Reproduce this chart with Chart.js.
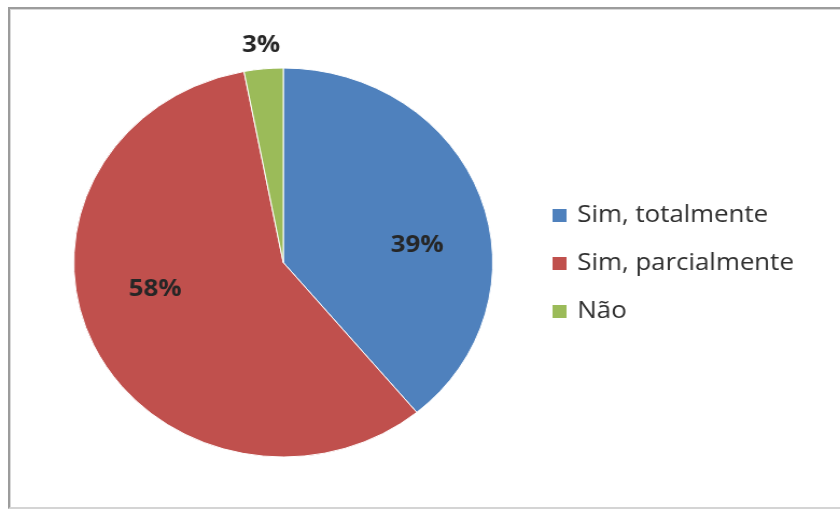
<!DOCTYPE html>
<html>
<head>
<meta charset="utf-8">
<script src="https://cdn.jsdelivr.net/npm/chart.js@4.4.1/dist/chart.umd.min.js"></script>
<style>
  html, body { margin: 0; padding: 0; background: #fff; overflow: hidden; }
  #frame {
    position: absolute; left: 8px; top: 7px; width: 860px; height: 498px;
    border: 2px solid #9c9c9c; border-bottom-color: #d4d4d4;
    box-shadow: inset 1px 1px 0 #d8d8d8;
  }
  #wrap {
    position: absolute; left: 0; top: 0; width: 780px; height: 510px;
    transform: scaleX(1.077); transform-origin: 0 0;
  }
</style>
</head>
<body>
<div id="frame"></div>
<div id="wrap"><canvas id="pie" width="780" height="510"></canvas></div>
<script>
const categories = ["Sim, totalmente", "Sim, parcialmente", "Não"];
const shares = [39, 58, 3];
const sliceColors = ["#4f81bd", "#c0504d", "#9bbb59"];

// label placement per slice: angle shift (deg) from the slice middle, radius factor
const labelPlace = [[12, 0.645], [12.6, 0.627], [0, 1.12]];

const sliceLabels = {
  id: "sliceLabels",
  afterDatasetsDraw(chart) {
    const ctx = chart.ctx;
    const arcs = chart.getDatasetMeta(0).data;
    ctx.save();
    ctx.font = "bold 24px 'Open Sans'";
    ctx.fillStyle = "#262626";
    ctx.textAlign = "center";
    ctx.textBaseline = "middle";
    arcs.forEach((arc, i) => {
      const p = arc.getProps(["x", "y", "startAngle", "endAngle", "outerRadius"], true);
      const mid = (p.startAngle + p.endAngle) / 2 + labelPlace[i][0] * Math.PI / 180;
      const r = p.outerRadius * labelPlace[i][1];
      ctx.fillText(shares[i] + "%", p.x + r * Math.cos(mid), p.y + r * Math.sin(mid));
    });
    ctx.restore();
  }
};

const sideLegend = {
  id: "sideLegend",
  afterDraw(chart) {
    const ctx = chart.ctx;
    ctx.save();
    ctx.font = "24px 'Open Sans'";
    ctx.textBaseline = "middle";
    categories.forEach((name, i) => {
      const y = 215 + i * 48;
      ctx.fillStyle = sliceColors[i];
      ctx.fillRect(513, y - 6, 13, 13);
      ctx.fillStyle = "#2e2e2e";
      ctx.fillText(name, 536, y);
    });
    ctx.restore();
  }
};

new Chart(document.getElementById("pie"), {
  type: "pie",
  data: {
    labels: categories,
    datasets: [{
      data: shares,
      backgroundColor: sliceColors,
      borderColor: "#ffffff",
      borderWidth: 1
    }]
  },
  options: {
    responsive: false,
    animation: false,
    radius: 194.5,
    layout: { padding: { left: 0, right: 254, top: 15, bottom: 0 } },
    plugins: {
      legend: { display: false },
      tooltip: { enabled: false }
    }
  },
  plugins: [sliceLabels, sideLegend]
});
</script>
</body>
</html>
